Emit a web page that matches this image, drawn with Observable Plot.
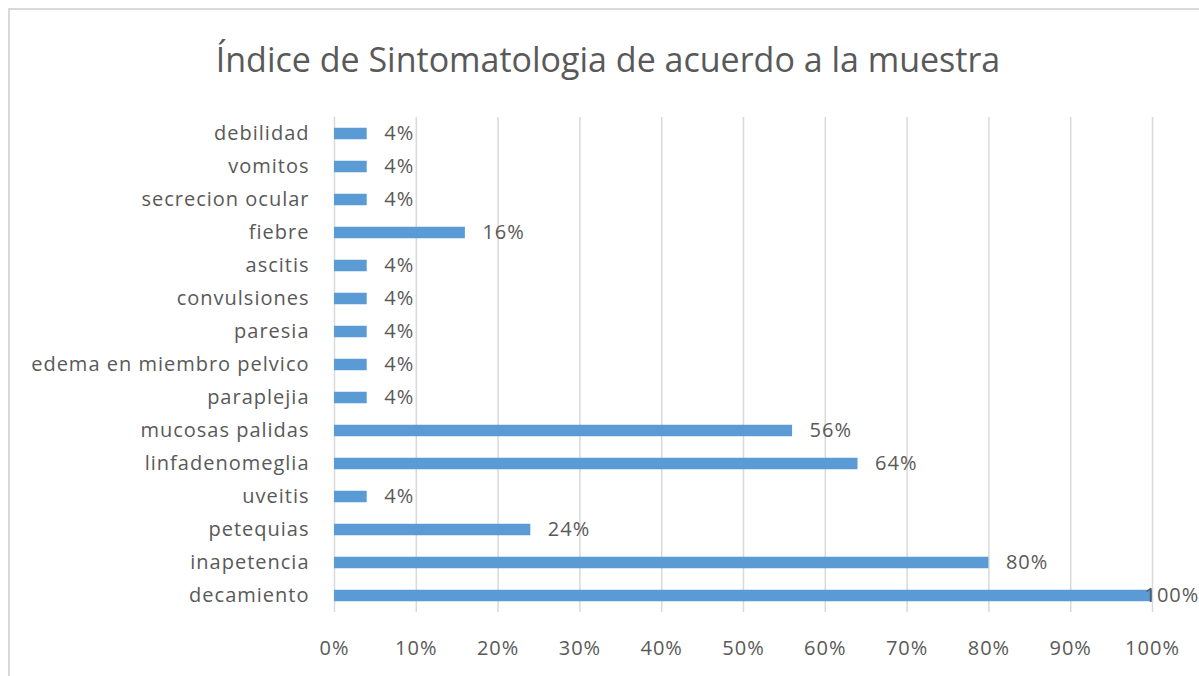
<!DOCTYPE html>
<html>
<head>
<meta charset="utf-8">
<script src="https://cdn.jsdelivr.net/npm/d3@7"></script>
<script src="https://cdn.jsdelivr.net/npm/@observablehq/plot@0.6"></script>
<style>
  html, body { margin: 0; padding: 0; background: #fff; width: 1199px; height: 676px; overflow: hidden; }
  #frame { position: absolute; left: 8px; top: 8px; width: 1220px; height: 700px; border: 2px solid #d9d9d9; box-sizing: border-box; }
  #title { position: absolute; left: 0; width: 1216px; top: 42px; text-align: center; font-family: "Open Sans", sans-serif; font-size: 34px; color: #595959; line-height: 1; white-space: nowrap; }
  #chart { position: absolute; left: 0; top: 0; }
  #chart svg text { letter-spacing: 1px; }
</style>
</head>
<body>
<div id="frame"></div>
<div id="title">Índice de Sintomatologia de acuerdo a la muestra</div>
<div id="chart"></div>
<script>
const categories = ["debilidad", "vomitos", "secrecion ocular", "fiebre", "ascitis", "convulsiones", "paresia", "edema en miembro pelvico", "paraplejia", "mucosas palidas", "linfadenomeglia", "uveitis", "petequias", "inapetencia", "decamiento"];
const values = [0.04, 0.04, 0.04, 0.16, 0.04, 0.04, 0.04, 0.04, 0.04, 0.56, 0.64, 0.04, 0.24, 0.80, 1.00];
const xTicks = [0, 0.1, 0.2, 0.3, 0.4, 0.5, 0.6, 0.7, 0.8, 0.9, 1.0];

const data = categories.map((c, i) => ({ cat: c, v: values[i] }));
const fmt = d3.format(".0%");
const textColor = "#595959";
const fontFamily = "'Open Sans', sans-serif";

const chart = Plot.plot({
  width: 1199,
  height: 676,
  marginTop: 117,
  marginBottom: 64,
  marginLeft: 334,
  marginRight: 47,
  style: { fontFamily, fontSize: "20px", color: textColor, background: "transparent", overflow: "visible" },
  x: { domain: [0, 1], ticks: xTicks, tickFormat: fmt, label: null },
  y: { domain: categories, padding: 0, label: null },
  marks: [
    Plot.ruleX(xTicks, { stroke: "#d9d9d9", strokeWidth: 1.5, strokeOpacity: 1 }),
    Plot.barX(data, { x: "v", y: "cat", fill: "#5b9bd5", insetTop: 10.75, insetBottom: 10.75 }),
    Plot.text(data.filter(d => d.v < 1), { x: "v", y: "cat", text: d => fmt(d.v), dx: 17, textAnchor: "start", fill: textColor, fontSize: 20 }),
    Plot.text(data.filter(d => d.v >= 1), { x: "v", y: "cat", text: d => fmt(d.v), dx: -8, textAnchor: "start", fill: textColor, fontSize: 20 }),
    Plot.axisX(xTicks, { tickSize: 0, tickPadding: 28, tickFormat: fmt, fill: textColor, fontSize: 20, label: null }),
    Plot.axisY({ tickSize: 0, tickPadding: 25, fill: textColor, fontSize: 20, label: null })
  ]
});
document.getElementById("chart").appendChild(chart);
</script>
</body>
</html>
